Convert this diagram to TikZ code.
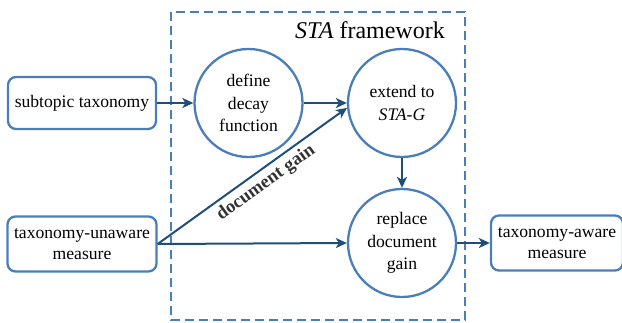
\documentclass[tikz,border=0pt]{standalone}
\usepackage{fontspec}
\setmainfont{Liberation Serif}
\usetikzlibrary{arrows.meta}
\definecolor{boxblue}{HTML}{4A7EBB}
\definecolor{arrblue}{HTML}{1F4E79}
\tikzset{
  rbox/.style={draw=boxblue, line width=2.3pt, rounded corners=8pt, align=center, font=\fontsize{17.6}{21}\selectfont, inner sep=0pt},
  circ/.style={draw=boxblue, line width=2.3pt, circle, minimum size=108pt, inner sep=0pt, align=center, font=\fontsize{17.6}{22.5}\selectfont},
  arr/.style={draw=arrblue, line width=2pt, -{Stealth[length=11pt,width=10pt,inset=3pt]}},
  frame/.style={draw=boxblue, line width=2pt, dash pattern=on 9pt off 5pt},
}
\begin{document}
\begin{tikzpicture}[x=1pt,y=-1pt]
\useasboundingbox (0,0) rectangle (622,322);
\draw[frame] (171,12) rectangle (465,320);
\node[anchor=base east, font=\fontsize{24}{27}\selectfont, inner sep=0pt] (title) at (445,38) {\textit{STA} framework};
\node[rbox, minimum width=148pt, minimum height=52pt] (st) at (82,103) {subtopic taxonomy};
\node[rbox, minimum width=149pt, minimum height=55pt] (tu) at (82,244) {taxonomy-unaware\\measure};
\node[rbox, minimum width=132pt, minimum height=55pt] (ta) at (557,243) {taxonomy-aware\\measure};
\node[circ] (dd) at (248.5,103) {define\\decay\\function};
\node[circ] (ext) at (402,103) {extend to\\\textit{STA-G}};
\node[circ] (rep) at (402,243) {replace\\document\\gain};
\draw[arr] (st.east) -- (dd.west);
\draw[arr] (dd.east) -- (ext.west);
\draw[arr] (ext.south) -- (rep.north);
\draw[arr] (tu.east) -- (rep.west);
\draw[arr] (rep.east) -- (ta.west);
\draw[arr] (tu.east) -- node[sloped, below, pos=0.53, font=\bfseries\fontsize{18.5}{20}\selectfont, text=black!80, yshift=-1pt] (dg) {document gain} (ext.185);
\end{tikzpicture}
\end{document}
